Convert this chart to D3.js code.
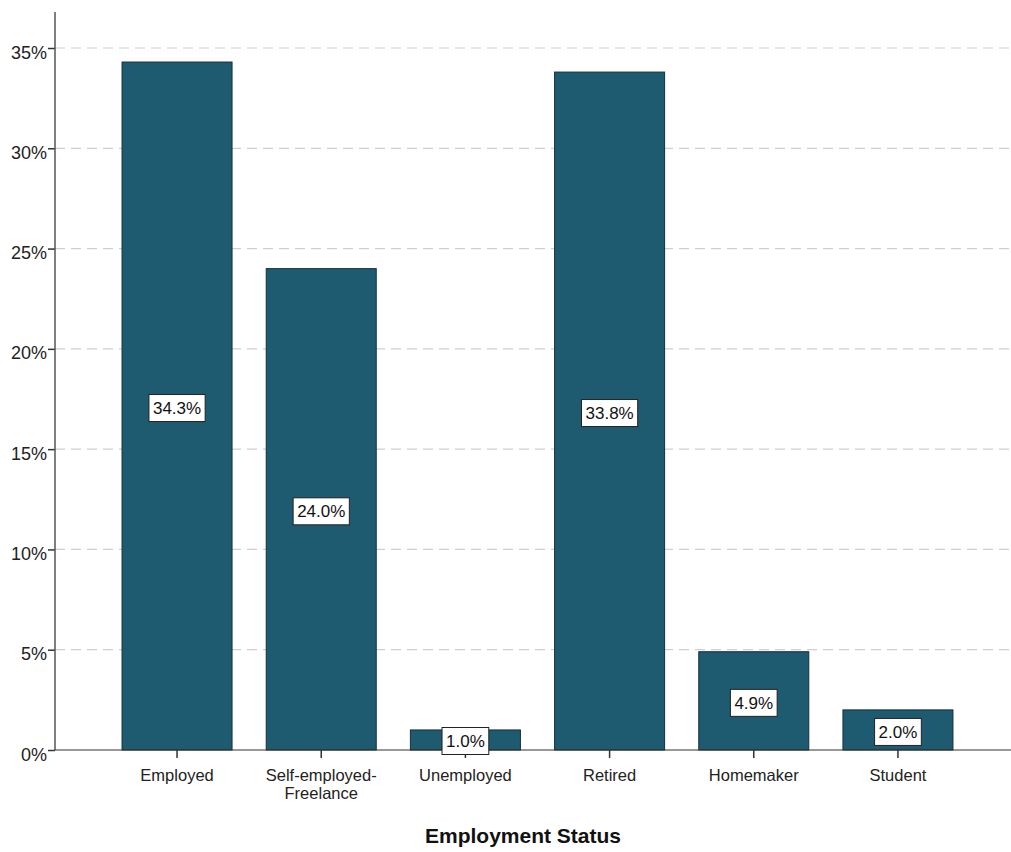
<!DOCTYPE html>
<html>
<head>
<meta charset="utf-8">
<script src="https://cdn.jsdelivr.net/npm/d3@7"></script>
<style>
  html, body { margin: 0; padding: 0; background: #fff; }
  svg { display: block; font-family: Arial, "Liberation Sans", sans-serif; }
</style>
</head>
<body>
<svg id="chart" width="1011" height="852"></svg>
<script>
const categories = ["Employed", "Self-employed-\nFreelance", "Unemployed", "Retired", "Homemaker", "Student"];
const percentages = [34.3, 24.0, 1.0, 33.8, 4.9, 2.0];
const yTicks = [0, 5, 10, 15, 20, 25, 30, 35];
const xTitle = "Employment Status";

const svg = d3.select("#chart");
const W = 1011, H = 852;
const axisX = 55, axisY = 750;
const FONT = "Arial, 'Liberation Sans', sans-serif";

const x = d3.scaleBand()
  .domain(categories)
  .range([axisX, 1020])
  .paddingInner(0.237)
  .paddingOuter(0.465);

const y = d3.scaleLinear().domain([0, 35]).range([axisY, 48]);

// gridlines
svg.append("g").selectAll("line")
  .data(yTicks.filter(d => d > 0))
  .join("line")
  .attr("x1", axisX).attr("x2", W)
  .attr("y1", d => y(d)).attr("y2", d => y(d))
  .attr("stroke", "#cfcfcf")
  .attr("stroke-width", 1.2)
  .attr("stroke-dasharray", "10,6");

// bars
svg.append("g").selectAll("rect")
  .data(percentages)
  .join("rect")
  .attr("x", (d, i) => x(categories[i]))
  .attr("width", x.bandwidth())
  .attr("y", d => y(d))
  .attr("height", d => y(0) - y(d))
  .attr("fill", "#1e5a70")
  .attr("stroke", "#12313e")
  .attr("stroke-width", 1);

// y axis
const yAxis = d3.axisLeft(y).tickValues(yTicks).tickFormat(d => d + "%").tickSize(7).tickPadding(1);
const gy = svg.append("g").attr("transform", `translate(${axisX},0)`).call(yAxis);
gy.select(".domain").remove();
gy.append("line").attr("x1", 0).attr("x2", 0).attr("y1", 12).attr("y2", axisY)
  .attr("stroke", "#555").attr("stroke-width", 1.5);
gy.selectAll(".tick line").attr("stroke", "#333").attr("stroke-width", 1.5);
gy.selectAll(".tick text").attr("font-size", 18).attr("fill", "#222")
  .attr("font-family", FONT).attr("dy", null).attr("y", 10);

// x axis
const xAxis = d3.axisBottom(x).tickSize(8).tickFormat("");
const gx = svg.append("g").attr("transform", `translate(0,${axisY})`).call(xAxis);
gx.select(".domain").remove();
gx.append("line").attr("x1", axisX).attr("x2", W).attr("y1", 0).attr("y2", 0)
  .attr("stroke", "#333").attr("stroke-width", 1.2);
gx.selectAll(".tick line").attr("stroke", "#333").attr("stroke-width", 1.5);
gx.selectAll(".tick").each(function(d) {
  const lines = d.split("\n");
  const t = d3.select(this).append("text")
    .attr("text-anchor", "middle")
    .attr("font-size", 16.5)
    .attr("fill", "#222")
    .attr("font-family", FONT);
  lines.forEach((ln, k) => {
    t.append("tspan").attr("x", 0).attr("y", 31 + k * 18).text(ln);
  });
});

// value labels
const lab = svg.append("g").selectAll("g")
  .data(percentages)
  .join("g")
  .attr("transform", (d, i) => {
    const cy = Math.min((y(d) + y(0)) / 2 + 2, axisY - 9);
    return `translate(${x(categories[i]) + x.bandwidth() / 2},${cy})`;
  });
const rects = lab.append("rect")
  .attr("fill", "#fff").attr("stroke", "#222").attr("stroke-width", 1);
const texts = lab.append("text")
  .attr("text-anchor", "middle")
  .attr("dy", "0.36em")
  .attr("font-size", 17)
  .attr("font-family", FONT)
  .attr("fill", "#111")
  .text(d => d.toFixed(1) + "%");
texts.each(function(d, i) {
  const w = this.getComputedTextLength() + 8;
  d3.select(rects.nodes()[i])
    .attr("x", -w / 2).attr("y", -13.5).attr("width", w).attr("height", 27);
});

// x title
svg.append("text")
  .attr("x", 523).attr("y", 843)
  .attr("text-anchor", "middle")
  .attr("font-size", 21)
  .attr("font-weight", "bold")
  .attr("font-family", FONT)
  .attr("fill", "#111")
  .text(xTitle);
</script>
</body>
</html>
